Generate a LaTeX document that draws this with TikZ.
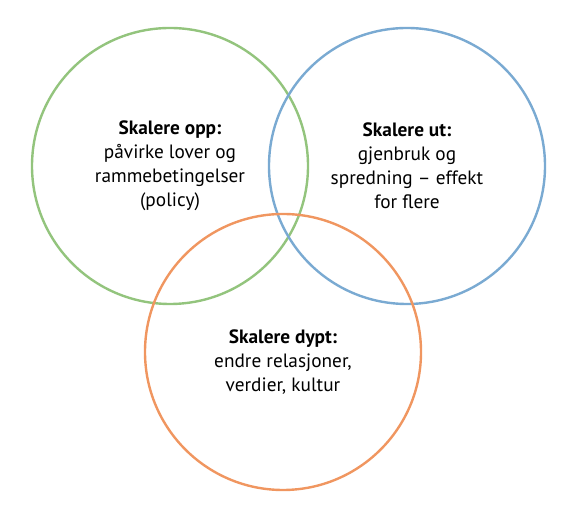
\documentclass[tikz,border=0pt]{standalone}
\usepackage{fontspec}
\setmainfont{PT Sans}
\definecolor{cgreen}{RGB}{147,196,125}
\definecolor{cblue}{RGB}{122,170,210}
\definecolor{corange}{RGB}{240,150,96}
\begin{document}
\begin{tikzpicture}[x=1pt,y=1pt,
  ring/.style={circle,draw,line width=2.4pt,minimum size=276pt,inner sep=0pt},
  lbl/.style={align=center,font=\fontsize{19.3}{24}\selectfont,text=black}]
\useasboundingbox (0,0) rectangle (576,518);
\node[ring,draw=cgreen] (g) at (170,352) {};
\node[ring,draw=cblue] (b) at (407,352) {};
\node[ring,draw=corange] (o) at (283,166) {};
\node[lbl] (gt) at (170,352) {\textbf{Skalere opp:}\\påvirke lover og\\rammebetingelser\\(policy)};
\node[lbl] (bt) at (407,352) {\textbf{Skalere ut:}\\gjenbruk og\\spredning – effekt\\for flere};
\node[lbl] (ot) at (283,156) {\textbf{Skalere dypt:}\\endre relasjoner,\\verdier, kultur};
\end{tikzpicture}
\end{document}
